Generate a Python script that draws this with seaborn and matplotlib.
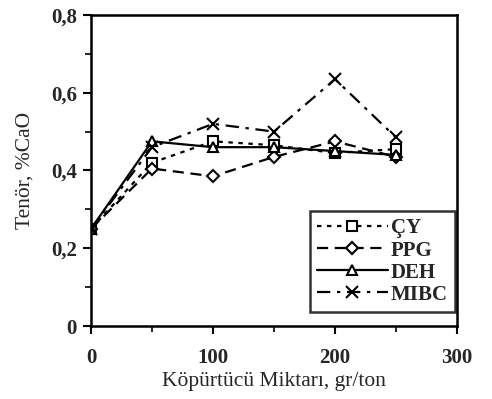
import matplotlib
matplotlib.use("Agg")
import matplotlib.pyplot as plt
import seaborn as sns
import pandas as pd
from matplotlib.ticker import MultipleLocator, FuncFormatter

sns.set_theme(style="white")
plt.rcParams['font.family'] = ['Liberation Serif', 'DejaVu Serif']

x = [0, 50, 100, 150, 200, 250]
cy = [0.25, 0.42, 0.475, 0.465, 0.445, 0.455]
ppg = [0.25, 0.405, 0.385, 0.435, 0.475, 0.435]
deh = [0.25, 0.475, 0.46, 0.46, 0.45, 0.44]
mibc = [0.25, 0.46, 0.52, 0.50, 0.635, 0.485]
series_names = ["ÇY", "PPG", "DEH", "MIBC"]

df = pd.DataFrame({
    "x": x * 4,
    "y": cy + ppg + deh + mibc,
    "s": sum([[n] * len(x) for n in series_names], []),
})

styles = {
    "ÇY": dict(ls=(0, (2, 2.5)), marker="s", ms=7),
    "PPG": dict(ls=(0, (5, 3)), marker="D", ms=6),
    "DEH": dict(ls="-", marker="^", ms=7),
    "MIBC": dict(ls=(0, (6, 3, 1.5, 3)), marker="x", ms=8),
}

fig = plt.figure(figsize=(4.92, 3.99), dpi=100)
ax = fig.add_axes([91/492, 1 - 326/399, (457-91)/492, (326-15)/399])

for n in series_names:
    st = styles[n]
    sns.lineplot(data=df[df.s == n], x="x", y="y", ax=ax, color="black",
                 linestyle=st["ls"], marker=st["marker"], markersize=st["ms"],
                 markerfacecolor="white", markeredgecolor="black",
                 markeredgewidth=1.5, linewidth=1.6, label=n)

ax.set_xlim(0, 300)
ax.set_ylim(0, 0.8)
ax.xaxis.set_major_locator(MultipleLocator(100))
ax.xaxis.set_minor_locator(MultipleLocator(50))
ax.yaxis.set_major_locator(MultipleLocator(0.2))
ax.yaxis.set_minor_locator(MultipleLocator(0.1))
ax.yaxis.set_major_formatter(FuncFormatter(lambda v, p: "0" if abs(v) < 1e-9 else f"{v:.1f}".replace(".", ",")))
ax.tick_params(which="both", direction="out", left=True, bottom=True, color="black")
ax.tick_params(which="major", length=6, width=1.5, labelsize=15)
ax.tick_params(axis="x", which="major", pad=10)
ax.tick_params(axis="y", which="major", pad=4)
ax.tick_params(which="minor", length=4, width=1.2)
for lbl in ax.get_xticklabels() + ax.get_yticklabels():
    lbl.set_fontweight("bold")
for sp in ax.spines.values():
    sp.set_color("black")
    sp.set_linewidth(1.8)

ax.set_xlabel("Köpürtücü Miktarı, gr/ton", fontsize=15.5, labelpad=3)
ax.set_ylabel("Tenör, %CaO", fontsize=15.5, labelpad=12)

leg = ax.legend(loc="lower right", bbox_to_anchor=(0.995, 0.045), frameon=True,
                fancybox=False, edgecolor="black", handlelength=3.4,
                prop={"weight": "bold", "size": 15}, borderpad=0.35,
                labelspacing=0.1, handletextpad=0.15, borderaxespad=0)
leg.get_frame().set_linewidth(1.8)

fig.savefig("out.png", dpi=100, facecolor="white")
